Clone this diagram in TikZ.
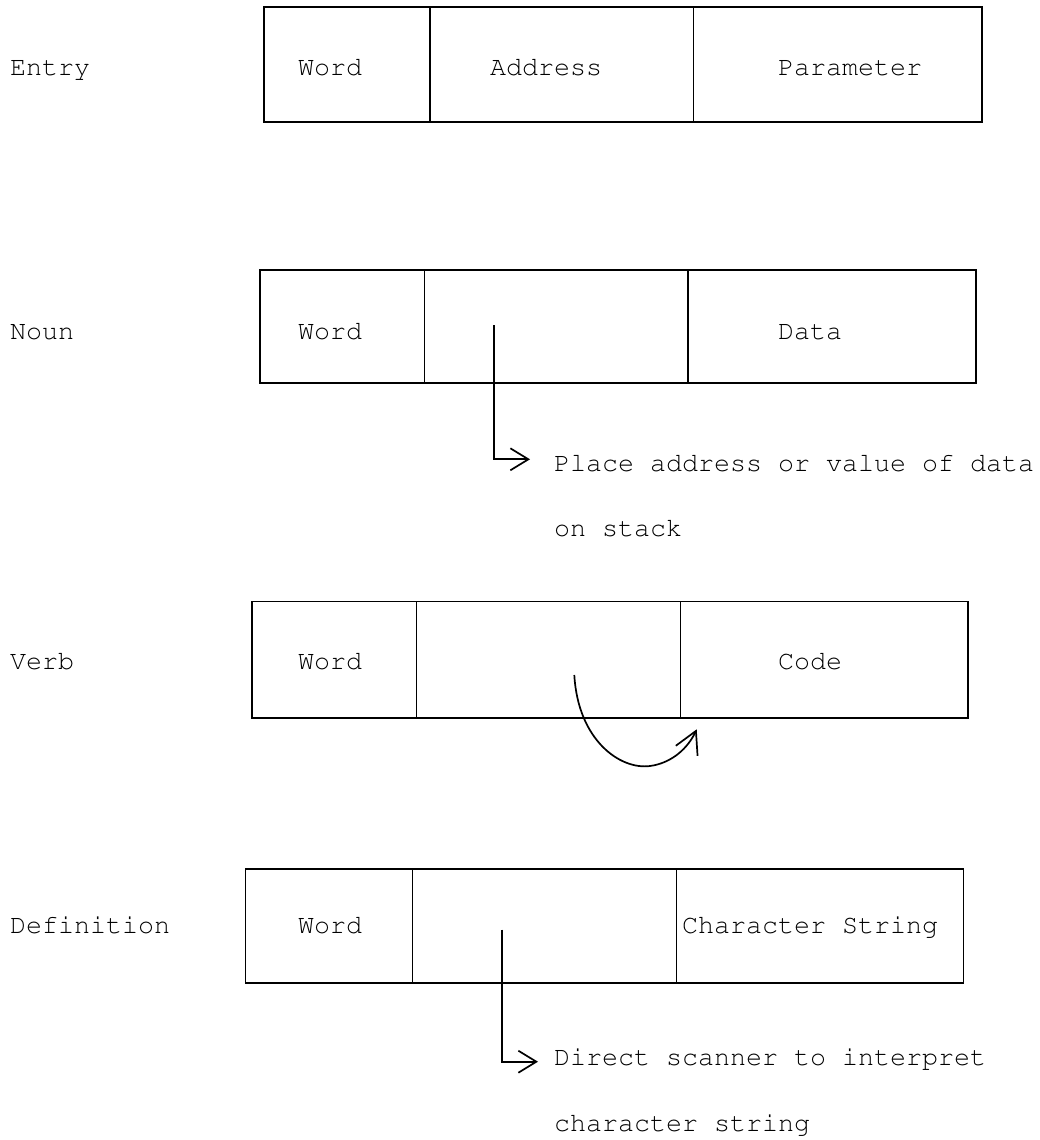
\documentclass[tikz,border=0pt]{standalone}
\usepackage[T1]{fontenc}
\usepackage{courier}
\usetikzlibrary{arrows.meta}

\begin{document}
\begin{tikzpicture}[x=1pt, y=-1pt, line width=1.7pt,
  lbl/.style={anchor=base west, inner sep=0pt, outer sep=0pt,
              font=\ttfamily\fontsize{26.67}{32}\selectfont},
  cell/.style={draw, anchor=north west, inner sep=0pt, outer sep=0pt},
  barb/.style={-{Straight Barb[length=18pt, width=22pt]}},
  curvebarb/.style={-{Straight Barb[length=22pt, width=24pt]}}]

\useasboundingbox (0,0) rectangle (1040,1140);

% ---- Entry layout ----
\node[cell, minimum width=165.8pt, minimum height=114.9pt] (entW) at (263.9,7.3) {};
\node[cell, minimum width=263.9pt, minimum height=114.9pt] (entA) at (entW.north east) {};
\node[cell, minimum width=288.5pt, minimum height=114.9pt] (entP) at (entA.north east) {};
\node[lbl] (entLbl)  at (10,75.5)  {Entry};
\node[lbl] (entWord) at (298,75.5) {Word};
\node[lbl] (entAddr) at (490,75.5) {Address};
\node[lbl] (entPar)  at (778,75.5) {Parameter};

% ---- Noun ----
\node[cell, minimum width=164.4pt, minimum height=113.5pt] (nounW) at (260,269.8) {};
\node[cell, minimum width=263.9pt, minimum height=113.5pt] (nounA) at (nounW.north east) {};
\node[cell, minimum width=287.8pt, minimum height=113.5pt] (nounP) at (nounA.north east) {};
\node[lbl] (nounLbl)  at (10,339)  {Noun};
\node[lbl] (nounWord) at (298,339) {Word};
\node[lbl] (nounData) at (778,339) {Data};
\node[lbl] (placeA) at (554,471) {Place address or value of data};
\node[lbl] (placeB) at (554,536) {on stack};
\coordinate (nounSrc) at (494,325);
\coordinate (nounTip) at (530,459.3);
\draw[barb] (nounSrc) |- (nounTip);

% ---- Verb ----
\node[cell, minimum width=164.4pt, minimum height=116.3pt] (verbW) at (252,601.5) {};
\node[cell, minimum width=264.0pt, minimum height=116.3pt] (verbA) at (verbW.north east) {};
\node[cell, minimum width=287.8pt, minimum height=116.3pt] (verbP) at (verbA.north east) {};
\node[lbl] (verbLbl)  at (10,669.3)  {Verb};
\node[lbl] (verbWord) at (298,669.3) {Word};
\node[lbl] (verbCode) at (778,669.3) {Code};
\coordinate (verbSrc) at (574.3,675);
\coordinate (verbTip) at (696.7,729.3);
\draw[curvebarb] (verbSrc) .. controls (578,740) and (620,770) .. (650,766)
                 .. controls (672,763) and (688,748) .. (verbTip);

% ---- Definition ----
\node[cell, minimum width=167.1pt, minimum height=114.3pt] (defW) at (245.4,869) {};
\node[cell, minimum width=263.9pt, minimum height=114.3pt] (defA) at (defW.north east) {};
\node[cell, minimum width=287.1pt, minimum height=114.3pt] (defP) at (defA.north east) {};
\node[lbl] (defLbl)  at (10,933.3)  {Definition};
\node[lbl] (defWord) at (298,933.3) {Word};
\node[lbl] (defStr)  at (682,933.3) {Character String};
\node[lbl] (directA) at (554,1065.5) {Direct scanner to interpret};
\node[lbl] (directB) at (554,1131)   {character string};
\coordinate (defSrc) at (502,929.5);
\coordinate (defTip) at (538,1061.7);
\draw[barb] (defSrc) |- (defTip);

\end{tikzpicture}
\end{document}
